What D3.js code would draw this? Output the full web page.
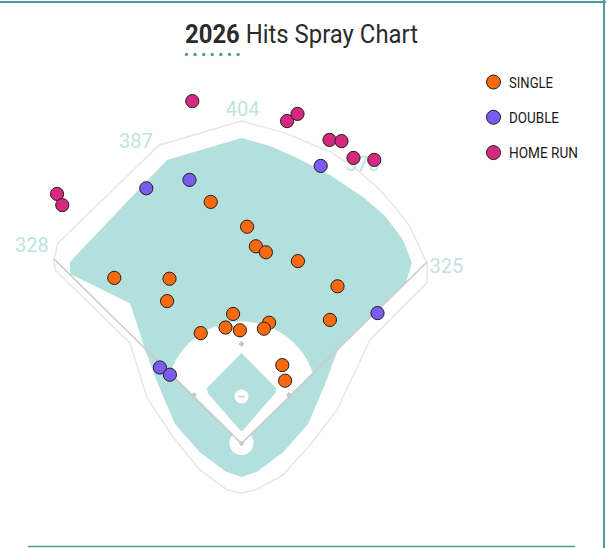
<!DOCTYPE html>
<html><head><meta charset="utf-8">
<script src="https://cdn.jsdelivr.net/npm/d3@7"></script>
<style>
html,body{margin:0;padding:0;background:#fff;}
svg{display:block;font-family:Roboto,"Liberation Sans",sans-serif;}
</style></head>
<body><svg id="chart" width="606" height="548"></svg>
<script>
// ---------- DATA (field coordinates in feet, home plate = 0,0) ----------
const hitTypes = ["SINGLE", "DOUBLE", "HOME RUN"];
const hitColors = ["#fa6a0c", "#7b5cf0", "#d6287e"];

const singlesX = [-38.5, 7, 18, 30.5, 70.5, 120, -159, -90, -93, -51, -10.5, -20, -2, 34.5, 28, 110.5, 51, 54.5];
const singlesY = [302, 271, 246.5, 239, 228, 196.5, 207, 206, 178, 138, 162, 145, 141.5, 151, 143.5, 154.5, 98, 78.5];

const doublesX = [-119, -65, 99, 170, -102, -89.5];
const doublesY = [319, 329.5, 347, 163, 95, 86];

const homeRunsX = [-61.5, -230.5, -224, 57, 70, 110, 125, 140, 166];
const homeRunsY = [428, 312, 298, 403, 412, 379.5, 378, 357, 354.5];

const wallDistances = ["328", "387", "404", "370", "325"];
const titleYear = "2026";
const titleText = " Hits Spray Chart";

// ---------- FIELD GEOMETRY (feet) ----------
const wallOutline = [[-234.4,230.6],[-229.4,250.6],[-102.75,373.1],[0,403.1],[55,388],[110.6,364.75],[145,342],[173.1,316.9],[194,293],[210.6,271],[226.9,235.6],
  [231.9,226.9],[231.9,200.6],[160.6,129.4],[119.4,41.9],[85.6,-1.9],[51.9,-39.4],[18.1,-58],[0,-61.9],[-18.1,-58],[-51.9,-33],[-85.6,8.1],[-118,56.9],[-139.4,125.6],[-233,216.9]];
const grassOutline = [[-214.4,227],[-198.1,244.4],[-93.1,354.4],[0,381.9],[35.6,371.9],[69.4,356.9],[110.6,335.6],[151.9,308.1],[179.4,284.4],[201.9,254.4],[213.1,225.6],[205.6,200.6],
  [133,131],[120,116],[104,73],[83,24],[52,-11],[20,-35],[0,-42],[-20,-35],[-52,-11],[-83,24],[-104,73],[-120,116],[-139,175],[-214,212]];
const infieldGrass = [[0,113],[-45.6,67],[0,14.4],[45.6,67]];
const bases = [[59.5,60.6],[0,124.4],[-59.5,60.6]];
const wallLabelPos = [[-262,240],[-132,370],[1.5,409],[151,341],[256,213]];
const poles = [[-234.4,230.6],[231.9,226.9]];

// ---------- SCALES ----------
const x = d3.scaleLinear().domain([-250, 250]).range([41.5, 441.5]);
const y = d3.scaleLinear().domain([0, 500]).range([443.5, 43.5]);
const color = d3.scaleOrdinal().domain(hitTypes).range(hitColors);

const svg = d3.select("#chart");

// frame
svg.append("line").attr("x1",0).attr("x2",606).attr("y1",2).attr("y2",2).attr("stroke","#4f9c9c").attr("stroke-width",2);
svg.append("line").attr("x1",604).attr("x2",604).attr("y1",0).attr("y2",548).attr("stroke","#4f9c9c").attr("stroke-width",2);
svg.append("line").attr("x1",28).attr("x2",575).attr("y1",546.5).attr("y2",546.5).attr("stroke","#4f9c9c").attr("stroke-width",1.5);

// title
const title = svg.append("text").attr("x", 301.5).attr("y", 42.7).attr("text-anchor","middle")
  .attr("font-size", 25.5).attr("fill","#2b2b2b").attr("textLength", 233).attr("lengthAdjust","spacingAndGlyphs");
title.append("tspan").attr("font-weight","bold").text(titleYear);
title.append("tspan").text(titleText);
svg.append("g").selectAll("circle").data(d3.range(7)).join("circle")
  .attr("cx", i => 186.5 + i * 8.6).attr("cy", 54.5).attr("r", 1.7).attr("fill","#4f9c9c");

// field
const line = d3.line().x(d => x(d[0])).y(d => y(d[1])).curve(d3.curveLinearClosed);
const field = svg.append("g");
field.append("path").attr("d", line(wallOutline)).attr("fill","#fff").attr("stroke","#e6e6e6").attr("stroke-width",1.5);
field.append("path").attr("d", line(grassOutline)).attr("fill","#b3dfdc");

// dirt: circle around mound clipped to fair wedge
const defs = svg.append("defs");
defs.append("clipPath").attr("id","fair").append("path")
  .attr("d", line([[0,0],[-300,300],[300,300]]));
const moundR = x(93.75) - x(0);
field.append("circle").attr("cx", x(0)).attr("cy", y(58.75)).attr("r", moundR)
  .attr("fill","#fff").attr("clip-path","url(#fair)");
field.append("path").attr("d", line(infieldGrass)).attr("fill","#b3dfdc");
field.selectAll("circle.cut").data([bases[0], bases[2]]).join("circle").attr("class","cut")
  .attr("cx", d => x(d[0] * 0.88)).attr("cy", d => y(d[1] + 4)).attr("r", 8).attr("fill","#fff");
field.append("circle").attr("cx", x(0)).attr("cy", y(0.5)).attr("r", 12).attr("fill","#fff");
field.append("circle").attr("cx", x(0)).attr("cy", y(58.75)).attr("r", 7).attr("fill","#fff");
field.append("line").attr("x1", x(-4)).attr("x2", x(4)).attr("y1", y(58.75)).attr("y2", y(58.75)).attr("stroke","#cfcfcf").attr("stroke-width",1.5);

// foul lines
field.selectAll("line.foul").data(poles).join("line").attr("class","foul")
  .attr("x1", x(0)).attr("y1", y(0)).attr("x2", d => x(d[0])).attr("y2", d => y(d[1]))
  .attr("stroke","#cacaca").attr("stroke-width",1.5);
// bases
field.selectAll("rect.base").data(bases).join("rect").attr("class","base")
  .attr("x", -2.2).attr("y", -2.2).attr("width", 4.4).attr("height", 4.4)
  .attr("transform", d => `translate(${x(d[0])},${y(d[1])}) rotate(45)`).attr("fill","#c8c8c8");
field.append("rect").attr("x",-2).attr("y",-2).attr("width",4).attr("height",4)
  .attr("transform", `translate(${x(0)},${y(0)}) rotate(45)`).attr("fill","#c8c8c8");

// wall labels
svg.append("g").selectAll("text").data(wallDistances).join("text")
  .attr("x", (d, i) => x(wallLabelPos[i][0])).attr("y", (d, i) => y(wallLabelPos[i][1]))
  .attr("text-anchor","middle").attr("font-size", 20).attr("fill","#bfe4e1").text(d => d);

// hits
const hits = [];
homeRunsX.forEach((v, i) => hits.push({type: "HOME RUN", fx: v, fy: homeRunsY[i]}));
doublesX.forEach((v, i) => hits.push({type: "DOUBLE", fx: v, fy: doublesY[i]}));
singlesX.forEach((v, i) => hits.push({type: "SINGLE", fx: v, fy: singlesY[i]}));
svg.append("g").selectAll("circle").data(hits).join("circle")
  .attr("cx", d => x(d.fx)).attr("cy", d => y(d.fy)).attr("r", 6.6)
  .attr("fill", d => color(d.type)).attr("stroke","#1e1e1e").attr("stroke-width",1);

// legend
const lg = svg.append("g").selectAll("g").data(hitTypes).join("g")
  .attr("transform", (d, i) => `translate(493.5,${82 + i * 35.3})`);
lg.append("circle").attr("r", 7).attr("fill", d => color(d)).attr("stroke","#1e1e1e").attr("stroke-width",1);
lg.append("text").attr("x", 15.5).attr("y", 5.8).attr("font-size", 15.5).attr("fill","#1a1a1a")
  .attr("textLength", d => d === "SINGLE" ? 44 : d === "DOUBLE" ? 50 : 69).attr("lengthAdjust","spacingAndGlyphs").text(d => d);
</script></body></html>
